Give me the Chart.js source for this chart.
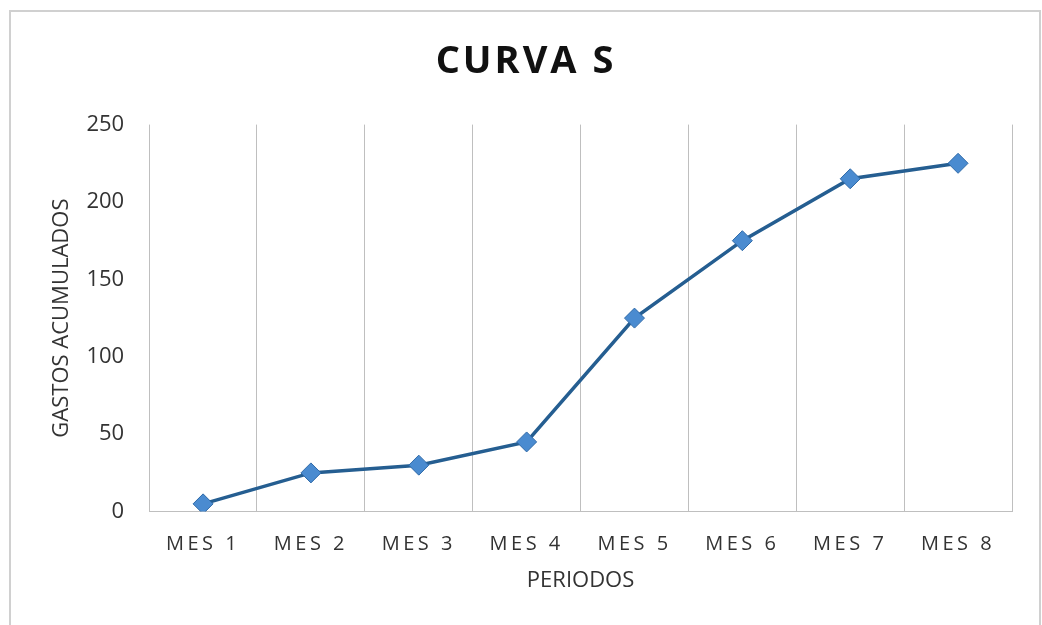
<!DOCTYPE html>
<html>
<head>
<meta charset="utf-8">
<script src="https://cdn.jsdelivr.net/npm/chart.js@4.4.1/dist/chart.umd.min.js"></script>
<style>
    html, body { margin: 0; padding: 0; background: #ffffff; }
    #wrap { position: relative; width: 1042px; height: 625px; }
    #frame {
        position: absolute; left: 9px; top: 10px; width: 1028px; height: 640px;
        border: 2px solid #d0d0d0; pointer-events: none;
    }
</style>
</head>
<body>
<div id="wrap">
    <canvas id="chart" width="1042" height="625"></canvas>
    <div id="frame"></div>
</div>
<script>
const periodos = ["MES 1", "MES 2", "MES 3", "MES 4", "MES 5", "MES 6", "MES 7", "MES 8"];
const gastosAcumulados = [5, 25, 30, 45, 125, 175, 215, 225];
const yTicks = [0, 50, 100, 150, 200, 250];

const textColor = "#333333";
const gridColor = "#bfbfbf";

// canvas letterSpacing for the title and the month labels only
const spacingPlugin = {
    id: "curvaSpacing",
    beforeDraw: (chart) => {
        const xScale = chart.scales.x;
        if (xScale && !xScale._spaced) {
            const orig = xScale.drawLabels;
            xScale.drawLabels = function (area) {
                const prev = this.ctx.letterSpacing;
                this.ctx.letterSpacing = "3.5px";
                orig.call(this, area);
                this.ctx.letterSpacing = prev;
            };
            xScale._spaced = true;
        }
        const title = chart.titleBlock;
        if (title && !title._spaced) {
            const origDraw = title.draw;
            title.draw = function () {
                const prev = this.ctx.letterSpacing;
                this.ctx.letterSpacing = "3px";
                origDraw.apply(this, arguments);
                this.ctx.letterSpacing = prev;
            };
            title._spaced = true;
        }
    },
};

new Chart(document.getElementById("chart"), {
    type: "line",
    data: {
        labels: periodos,
        datasets: [{
            label: "Gastos acumulados",
            data: gastosAcumulados,
            borderColor: "#255e91",
            borderWidth: 3.5,
            pointStyle: "rectRot",
            pointRadius: 10,
            pointHoverRadius: 10,
            pointBackgroundColor: "#4a8bd0",
            pointBorderColor: "#2f6aa8",
            pointBorderWidth: 1,
            tension: 0,
        }],
    },
    options: {
        responsive: false,
        animation: false,
        layout: { padding: { left: 40, right: 30, top: 10, bottom: 18 } },
        plugins: {
            legend: { display: false },
            tooltip: { enabled: false },
            title: {
                display: true,
                text: "CURVA S",
                color: "#111111",
                font: { family: "'Open Sans', sans-serif", size: 38, weight: "bold" },
                padding: { top: 29, bottom: 40 },
            },
        },
        scales: {
            x: {
                offset: true,
                grid: { offset: true, color: gridColor, lineWidth: 1, drawTicks: false },
                border: { display: true, color: gridColor, width: 1 },
                ticks: {
                    color: textColor,
                    padding: 21,
                    maxRotation: 0,
                    font: { family: "'Open Sans', sans-serif", size: 20 },
                },
                title: {
                    display: true,
                    text: "PERIODOS",
                    color: textColor,
                    font: { family: "'Open Sans', sans-serif", size: 22 },
                    padding: { top: -10, bottom: 13 },
                },
            },
            y: {
                min: yTicks[0],
                max: yTicks[yTicks.length - 1],
                afterBuildTicks: (scale) => {
                    scale.ticks = yTicks.map((v) => ({ value: v }));
                },
                grid: { display: false, drawTicks: false },
                border: { display: false },
                ticks: {
                    color: textColor,
                    padding: 25,
                    font: { family: "'Open Sans', sans-serif", size: 22 },
                },
                title: {
                    display: true,
                    text: "GASTOS ACUMULADOS",
                    color: textColor,
                    font: { family: "'Open Sans', sans-serif", size: 22 },
                    padding: { top: 9, bottom: -14 },
                },
            },
        },
    },
    plugins: [spacingPlugin],
});
</script>
</body>
</html>
